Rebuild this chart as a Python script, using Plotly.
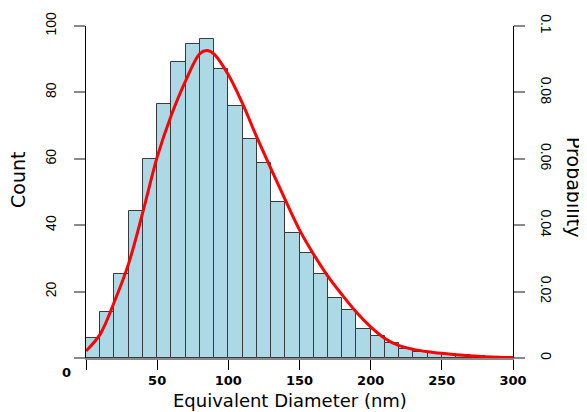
import plotly.graph_objects as go

# Histogram: bin edges every 10 nm from 0 to 300
bin_left = list(range(0, 300, 10))
counts = [6.1, 14, 25.4, 44.2, 60, 76.4, 89.2, 94.5, 96.1, 87.1,
          76, 66.1, 58.8, 47.1, 37.8, 31.7, 25.3, 18, 14.5, 8.6,
          6.7, 4.4, 2.7, 1.9, 1.4, 1.1, 0.8, 0.5, 0.3, 0.2]

# Fitted probability curve
curve_x = [0, 10, 20, 30, 40, 50, 60, 70, 80, 85, 90, 100, 110, 120, 130, 140,
           150, 160, 170, 180, 190, 200, 210, 220, 230, 240, 250, 260, 270, 280, 290, 300]
curve_p = [0.0021, 0.0072, 0.0170, 0.0285, 0.0440, 0.0605, 0.0732, 0.0835, 0.0917,
           0.0926, 0.0915, 0.0853, 0.0766, 0.0665, 0.0570, 0.0476, 0.0386, 0.0312,
           0.0246, 0.0190, 0.0138, 0.0094, 0.0059, 0.0037, 0.0026, 0.0019, 0.0014,
           0.0010, 0.0007, 0.0004, 0.0002, 0.0001]

x_ticks = [0, 50, 100, 150, 200, 250, 300]
x_ticktext = ["", "50", "100", "150", "200", "250", "300"]
y_ticks = [0, 20, 40, 60, 80, 100]
y_ticktext = ["", "20", "40", "60", "80", "100"]
y2_ticks = [0, 0.02, 0.04, 0.06, 0.08, 0.1]
y2_ticktext = ["0", "0.02", "0.04", "0.06", "0.08", "0.1"]

centers = [b + 5 for b in bin_left]

fig = go.Figure()
fig.add_trace(go.Bar(
    x=centers, y=counts, width=10,
    marker=dict(color="#ADD8E6", line=dict(color="#3a3a3a", width=1)),
    yaxis="y", showlegend=False, hoverinfo="skip"))
fig.add_trace(go.Scatter(
    x=curve_x, y=curve_p, mode="lines",
    line=dict(color="#FF0000", width=3, shape="spline", smoothing=1.0),
    yaxis="y2", showlegend=False))

# page has an 8px body margin: figure placed at (8, 8)
OFF = 8
W, H = 587 - OFF, 412 - OFF
L, R, T, B = 86, 513, 26, 358  # plot area in page pixels

tick_font_y = dict(family="Liberation Sans Narrow, Liberation Sans, Arial", size=14, color="black")
fig.update_layout(
    width=W, height=H,
    margin=dict(l=L - OFF, r=W - (R - OFF), t=T - OFF, b=H - (B - OFF), autoexpand=False),
    paper_bgcolor="white", plot_bgcolor="white",
    bargap=0,
    xaxis=dict(range=[0, 300], tickvals=x_ticks, ticktext=x_ticktext,
               ticks="outside", ticklen=10, tickcolor="black", tickwidth=1,
               showline=True, linecolor="#8a8a8a", linewidth=1.5,
               showgrid=False, zeroline=False,
               tickfont=dict(family="DejaVu Sans", size=13, color="black", weight="bold")),
    yaxis=dict(range=[0, 100], tickvals=y_ticks, ticktext=y_ticktext,
               ticks="outside", ticklen=11, tickcolor="#8a8a8a", tickwidth=1.5,
               showline=True, linecolor="black", linewidth=1,
               showgrid=False, zeroline=False, tickangle=-90,
               ticklabelstandoff=12, tickfont=tick_font_y),
    yaxis2=dict(range=[0, 0.1], tickvals=y2_ticks, ticktext=y2_ticktext,
                overlaying="y", side="right",
                ticks="outside", ticklen=11, tickcolor="#8a8a8a", tickwidth=1.5,
                showline=True, linecolor="black", linewidth=1,
                showgrid=False, zeroline=False, tickangle=90,
                ticklabelstandoff=10, tickfont=tick_font_y),
)


def px(x):
    return (x - L) / (R - L)


def py(y):
    return (B - y) / (B - T)


title_font = dict(family="DejaVu Sans", size=18, color="black")
fig.add_annotation(text="Count", xref="paper", yref="paper", x=px(18), y=py(180),
                   showarrow=False, textangle=-90, font=dict(family="DejaVu Sans", size=19, color="black"),
                   xanchor="center", yanchor="middle")
fig.add_annotation(text="Probability", xref="paper", yref="paper", x=px(574), y=py(187),
                   showarrow=False, textangle=90, font=dict(family="DejaVu Sans", size=19, color="black"),
                   xanchor="center", yanchor="middle")
fig.add_annotation(text="Equivalent Diameter (nm)", xref="paper", yref="paper", x=px(290), y=py(400),
                   showarrow=False, font=title_font, xanchor="center", yanchor="middle")
fig.add_annotation(text="0", xref="paper", yref="paper", x=px(66.5), y=py(373),
                   showarrow=False, font=dict(family="DejaVu Sans", size=13, color="black", weight="bold"),
                   xanchor="center", yanchor="middle")

fig.write_html("out.html")
